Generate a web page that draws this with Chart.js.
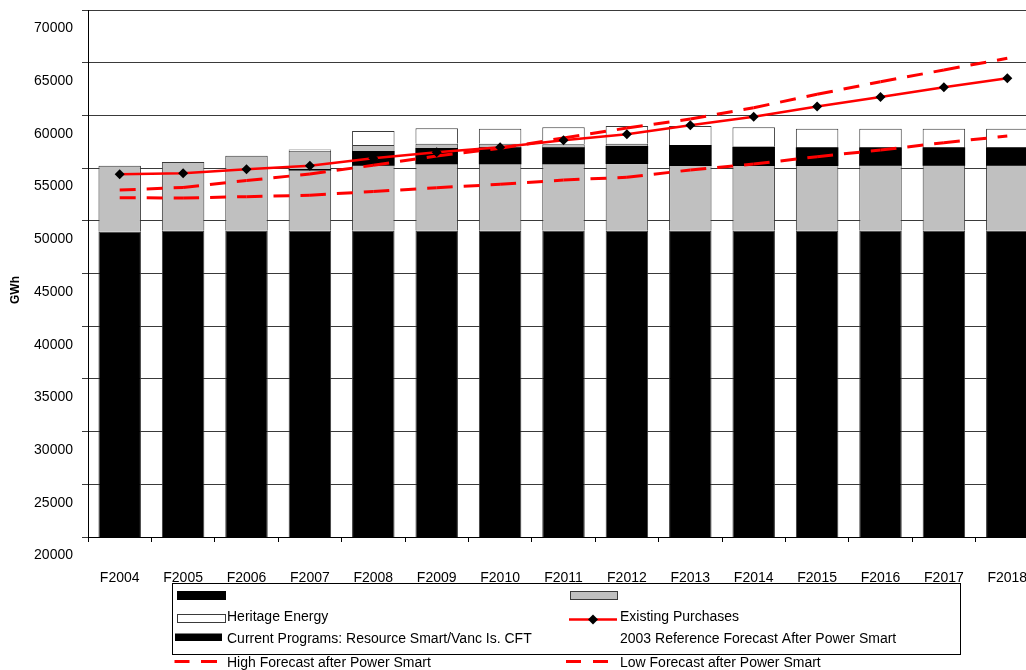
<!DOCTYPE html>
<html>
<head>
<meta charset="utf-8">
<script src="https://cdn.jsdelivr.net/npm/chart.js@4.4.1/dist/chart.umd.min.js"></script>
<style>
  html, body { margin: 0; padding: 0; background: #fff; overflow: hidden; width: 1026px; height: 670px; }
  #wrap { position: absolute; left: 0; top: 0; width: 1045px; height: 670px; }
</style>
</head>
<body>
<div id="wrap"><canvas id="chart" width="1045" height="670"></canvas></div>
<script>
// Fiscal years on the category axis
const years = ['F2004','F2005','F2006','F2007','F2008','F2009','F2010','F2011','F2012','F2013','F2014','F2015','F2016','F2017','F2018'];

// Stacked bar segments (GWh)
const baseEnergy     = [48950, 49050, 49050, 49050, 49050, 49050, 49050, 49050, 49050, 49050, 49050, 49050, 49050, 49050, 49050];
const greyBlock      = [6280, 6530, 7130, 7600, 8140, 8270, 8270, 8210, 8270, 8130, 7970, 7890, 7890, 7890, 7890];
const heritageEnergy = [null, null, null, 120, 1330, 1460, 1420, 1610, 1670, 1810, 1850, 1800, 1800, 1800, 1800];

// Current Programs block: lower and upper edge (GWh)
const currentProgramsLow  = [null, null, null, 54780, 55230, 55370, 55370, 55370, 55400, 55200, 55200, 55200, 55230, 55230, 55230];
const currentProgramsHigh = [null, null, null, 54920, 56620, 56910, 56970, 56970, 57100, 57190, 57030, 56970, 56970, 56970, 56970];

// Forecast / purchase lines (GWh)
const existingPurchases = [54410, 54510, 54890, 55230, 55930, 56500, 56970, 57640, 58210, 59060, 59880, 60840, 61750, 62670, 63520];
const highForecast      = [52920, 53160, 53820, 54440, 55270, 56150, 56880, 57860, 58800, 59660, 60730, 62000, 63200, 64310, 65420];
const lowForecast       = [52190, 52160, 52290, 52430, 52780, 53140, 53460, 53870, 54130, 54820, 55390, 56080, 56720, 57410, 58050];

// Value axis
const yMin = 20000;
const yMax = 70000;
const yStep = 5000;

const FONT = "'Liberation Sans', Arial, sans-serif";
const RED = '#ff0000';
const EDGE = '#3a3a3a';

const currentPrograms = currentProgramsLow.map((lo, i) => lo === null ? null : [lo, currentProgramsHigh[i]]);

// Dash pattern restarts at every data point, so each segment gets its own path
const DASH = [16, 11];
const restartDash = { borderDashOffset: c => (c.p0DataIndex % 2) ? DASH[0] + DASH[1] : 0 };

// Legend drawn as a boxed two-column table under the axis
const boxLegend = {
  id: 'boxLegend',
  afterDraw(chart) {
    const ctx = chart.ctx;
    ctx.save();
    ctx.strokeStyle = '#000';
    ctx.lineWidth = 1;
    ctx.strokeRect(172.5, 583.5, 788, 71);

    // row 1
    ctx.fillStyle = '#000';
    ctx.fillRect(177, 591, 49, 9);
    ctx.fillStyle = '#c0c0c0';
    ctx.fillRect(570, 591, 48, 9);
    ctx.strokeStyle = EDGE;
    ctx.strokeRect(570.5, 591.5, 47, 8);

    // row 2
    ctx.fillStyle = '#fff';
    ctx.fillRect(177.5, 614.5, 48, 8);
    ctx.strokeStyle = EDGE;
    ctx.strokeRect(177.5, 614.5, 48, 8);
    ctx.strokeStyle = RED;
    ctx.lineWidth = 2.5;
    ctx.beginPath(); ctx.moveTo(569, 619.5); ctx.lineTo(617, 619.5); ctx.stroke();
    ctx.fillStyle = '#000';
    ctx.beginPath();
    ctx.moveTo(593, 614.5); ctx.lineTo(598, 619.5); ctx.lineTo(593, 624.5); ctx.lineTo(588, 619.5);
    ctx.closePath(); ctx.fill();

    // row 3
    ctx.fillStyle = '#000';
    ctx.fillRect(175, 633.5, 47, 7.5);

    // row 4
    ctx.strokeStyle = RED;
    ctx.lineWidth = 3;
    ctx.beginPath();
    ctx.moveTo(174.5, 661.5); ctx.lineTo(189.5, 661.5);
    ctx.moveTo(201, 661.5); ctx.lineTo(217, 661.5);
    ctx.moveTo(566, 661.5); ctx.lineTo(581, 661.5);
    ctx.moveTo(593, 661.5); ctx.lineTo(608, 661.5);
    ctx.stroke();

    ctx.fillStyle = '#000';
    ctx.font = '14px ' + FONT;
    ctx.textAlign = 'left';
    ctx.textBaseline = 'alphabetic';
    ctx.fillText('Heritage Energy', 227, 620.5);
    ctx.fillText('Existing Purchases', 620, 621);
    ctx.fillText('Current Programs: Resource Smart/Vanc Is. CFT', 227, 643);
    ctx.fillText('2003 Reference Forecast After Power Smart', 620, 643);
    ctx.fillText('High Forecast after Power Smart', 227, 666.5);
    ctx.fillText('Low Forecast after Power Smart', 620, 666.5);

    // value axis title
    ctx.translate(16, 290);
    ctx.rotate(-Math.PI / 2);
    ctx.font = 'bold 12px ' + FONT;
    ctx.textAlign = 'center';
    ctx.textBaseline = 'middle';
    ctx.fillText('GWh', 0, 0);
    ctx.restore();
  }
};

const barCommon = {
  type: 'bar',
  stack: 'supply',
  borderColor: EDGE,
  borderWidth: 1,
  categoryPercentage: 1,
  barPercentage: 0.67,
  order: 2
};

new Chart(document.getElementById('chart'), {
  data: {
    labels: years,
    datasets: [
      Object.assign({}, barCommon, { label: 'Base', data: baseEnergy, backgroundColor: '#000' }),
      Object.assign({}, barCommon, { label: 'Grey', data: greyBlock, backgroundColor: '#c0c0c0' }),
      Object.assign({}, barCommon, { label: 'Heritage Energy', data: heritageEnergy, backgroundColor: '#fff' }),
      {
        type: 'bar',
        label: 'Current Programs: Resource Smart/Vanc Is. CFT',
        data: currentPrograms,
        yAxisID: 'y2',
        grouped: false,
        backgroundColor: '#000',
        borderWidth: 0,
        categoryPercentage: 1,
        barPercentage: 0.67,
        order: 1
      },
      {
        type: 'line',
        label: 'Existing Purchases',
        data: existingPurchases,
        yAxisID: 'y2',
        borderColor: RED,
        borderWidth: 2.5,
        pointStyle: 'rectRot',
        pointRadius: 5,
        pointBackgroundColor: '#000',
        pointBorderColor: '#000',
        pointBorderWidth: 0,
        tension: 0,
        fill: false,
        order: 0
      },
      {
        type: 'line',
        label: 'High Forecast after Power Smart',
        data: highForecast,
        yAxisID: 'y2',
        borderColor: RED,
        borderWidth: 3,
        borderDash: DASH,
        borderCapStyle: 'butt',
        segment: restartDash,
        pointRadius: 0,
        tension: 0,
        fill: false,
        order: 0
      },
      {
        type: 'line',
        label: 'Low Forecast after Power Smart',
        data: lowForecast,
        yAxisID: 'y2',
        borderColor: RED,
        borderWidth: 3,
        borderDash: DASH,
        borderCapStyle: 'butt',
        segment: restartDash,
        pointRadius: 0,
        tension: 0,
        fill: false,
        order: 0
      }
    ]
  },
  options: {
    responsive: false,
    animation: false,
    events: [],
    layout: { padding: { top: 10, right: 6, bottom: 0, left: 0 } },
    plugins: { legend: { display: false }, tooltip: { enabled: false } },
    scales: {
      x: {
        stacked: true,
        offset: true,
        afterFit(scale) { scale.height = 133; scale.paddingLeft = 0; scale.paddingRight = 0; },
        grid: { offset: true, drawOnChartArea: false, drawTicks: true, tickLength: 5, color: '#000', lineWidth: 1 },
        border: { display: true, color: '#000', width: 1 },
        ticks: {
          autoSkip: false, maxRotation: 0, padding: 28,
          color: '#000', font: { family: FONT, size: 14 }
        }
      },
      y: {
        stacked: true,
        min: yMin,
        max: yMax,
        afterFit(scale) { scale.width = 88; scale.paddingTop = 0; scale.paddingBottom = 0; },
        grid: { color: EDGE, lineWidth: 1, drawTicks: true, tickLength: 6 },
        border: { display: true, color: '#000', width: 1 },
        ticks: {
          stepSize: yStep, autoSkip: false, padding: 9, labelOffset: 18.5,
          color: '#000', font: { family: FONT, size: 14 },
          callback: v => String(v)
        }
      },
      y2: {
        display: false,
        min: yMin,
        max: yMax
      }
    }
  },
  plugins: [boxLegend]
});
</script>
</body>
</html>
